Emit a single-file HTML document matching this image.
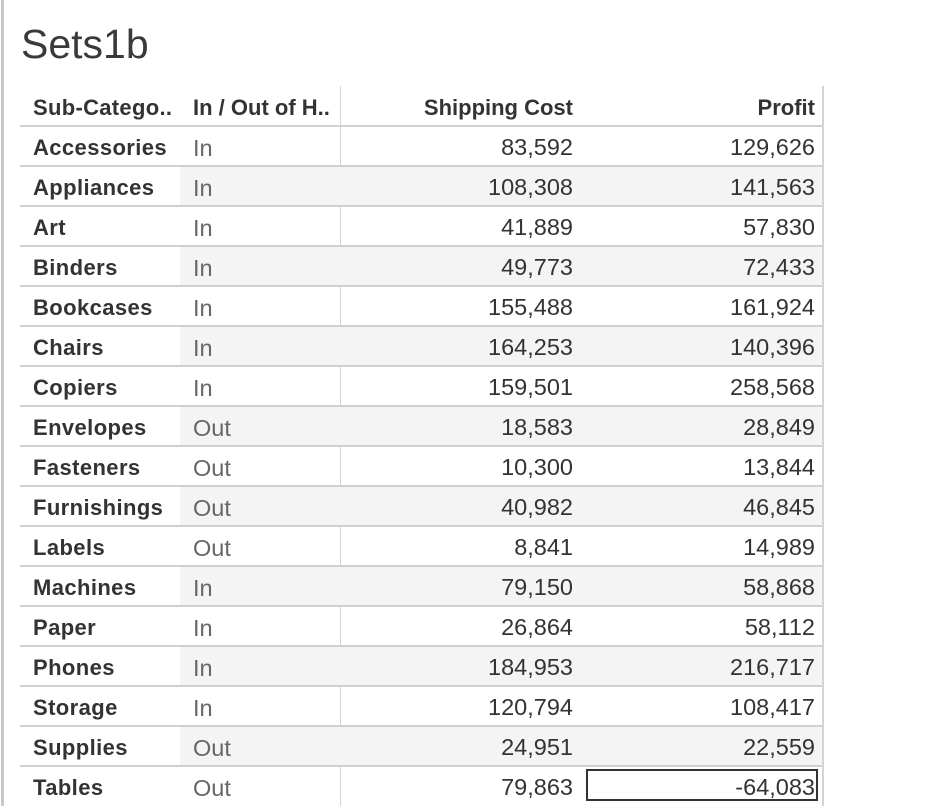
<!DOCTYPE html>
<html><head><meta charset="utf-8"><style>
body{margin:0;width:928px;height:806px;background:#fff;position:relative;overflow:hidden;font-family:"Liberation Sans",sans-serif;color:#333}
.a{position:absolute}
.t{font-size:23.5px;line-height:40px;white-space:nowrap}
</style></head><body>
<div class="a" style="left:1px;top:0;width:3px;height:806px;background:#c8c8c8"></div>
<div class="a" style="left:21px;top:20px;font-size:41px;line-height:48px;color:#3a3a3a">Sets1b</div>
<div id="tbl"></div>
<script>
const subCats=["Accessories","Appliances","Art","Binders","Bookcases","Chairs","Copiers","Envelopes","Fasteners","Furnishings","Labels","Machines","Paper","Phones","Storage","Supplies","Tables"];
const inOut=["In","In","In","In","In","In","In","Out","Out","Out","Out","In","In","In","In","Out","Out"];
const shipping=[83592,108308,41889,49773,155488,164253,159501,18583,10300,40982,8841,79150,26864,184953,120794,24951,79863];
const profit=[129626,141563,57830,72433,161924,140396,258568,28849,13844,46845,14989,58868,58112,216717,108417,22559,-64083];
const T=document.getElementById('tbl');
function mk(css,txt){const d=document.createElement('div');d.className='a'+(txt!==undefined?' t':'');d.style.cssText=css;if(txt!==undefined)d.textContent=txt;T.appendChild(d);return d;}
const fmt=v=>v.toLocaleString('en-US');
let h;
h=mk('left:33px;top:88px;font-weight:bold;font-size:22px;letter-spacing:0.3px','Sub-Catego..');


h=mk('left:193px;top:88px;font-weight:bold;font-size:22px','In / Out of H..');


h=mk('left:340px;width:233px;text-align:right;top:88px;font-weight:bold;font-size:22px','Shipping Cost');


h=mk('left:582px;width:233px;text-align:right;top:88px;font-weight:bold;font-size:22px','Profit');


h=mk('left:340px;top:86px;width:1px;height:720px;background:#d4d4d4');


h=mk('left:822px;top:86px;width:2px;height:720px;background:#d4d4d4');


for(let i=0;i<subCats.length;i++){
  const y=126+i*40;
  if(i%2==1){const s=mk('left:180px;top:'+y+'px;width:642px;height:40px;background:#f4f4f4');
    
    }
  const l=mk('left:20px;top:'+(y-1)+'px;width:802px;height:2px;background:#d0d0d0');
  
  
  let c=mk('left:33px;top:'+(y+2)+'px;font-weight:bold;font-size:22px;letter-spacing:0.4px;color:#333',subCats[i]);
  
  
  c=mk('left:193px;top:'+(y+2)+'px;color:#666',inOut[i]);
  
  
  c=mk('left:340px;width:233px;text-align:right;top:'+(y+1)+'px',fmt(shipping[i]));
  
  
  c=mk('left:582px;width:233px;text-align:right;top:'+(y+1)+'px',fmt(profit[i]));
  
  
  if(i==subCats.length-1){
    const b=mk('left:586px;top:'+(y+3)+'px;width:232px;height:32px;border:2px solid #333;box-sizing:border-box');
    
    
  }
}
</script>
</body></html>
